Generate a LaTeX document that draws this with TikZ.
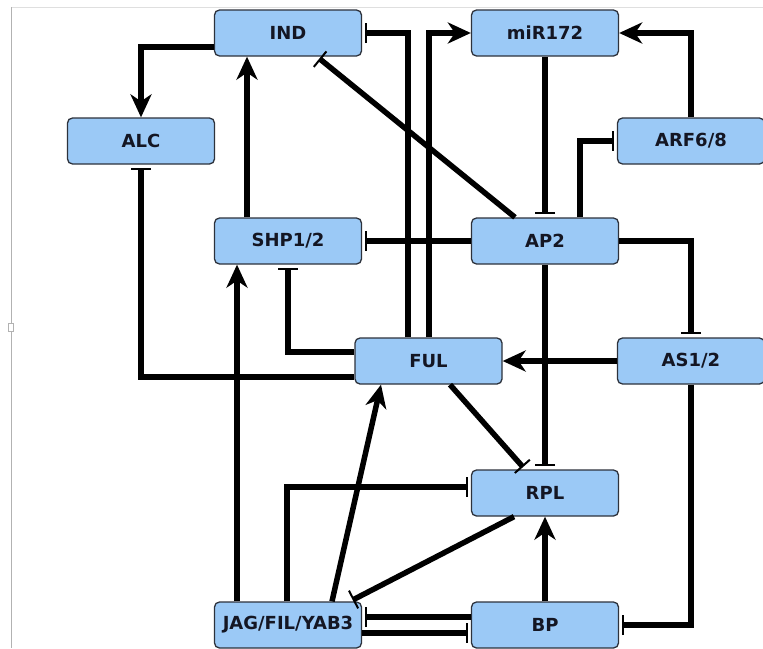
\documentclass[tikz,border=0pt]{standalone}
\usepackage{fontspec}
\setmainfont{DejaVu Sans}
\usetikzlibrary{arrows.meta}
\definecolor{boxfill}{RGB}{155,201,246}
\definecolor{boxline}{RGB}{45,50,60}
\definecolor{txt}{RGB}{20,22,35}
\definecolor{barcol}{RGB}{40,40,40}
\tikzset{
  gene/.style={draw=boxline, line width=1.3pt, fill=boxfill, rounded corners=5pt,
    minimum width=147pt, minimum height=46pt, inner sep=0pt,
    font=\fontsize{18}{21}\selectfont\bfseries, text=txt},
  act/.style={line width=5.5pt, -{Stealth[length=23pt,width=21pt,inset=7pt]}},
  inh/.style={line width=5.5pt, -{Bar[width=20pt,line width=2pt]}, shorten >=3pt},
}
\begin{document}
\begin{tikzpicture}[x=1pt,y=-1pt]
\useasboundingbox (0,0) rectangle (763,648);
\fill[white] (0,0) rectangle (763,648);
% screenshot frame
\draw[gray!25, line width=0.8pt] (11,7) -- (763,7);
\draw[gray!60, line width=0.8pt] (11,7) -- (11,648);
\draw[gray!60, line width=0.6pt, fill=white] (8,323) rectangle (13,331);

\node[gene] (IND) at (288,33) {IND};
\node[gene] (miR) at (545,33) {miR172};
\node[gene] (ALC) at (141,141) {ALC};
\node[gene] (ARF) at (691,141) {ARF6/8};
\node[gene] (SHP) at (288,241) {SHP1/2};
\node[gene] (AP2) at (545,241) {AP2};
\node[gene] (FUL) at (428.5,361) {FUL};
\node[gene] (AS) at (691,361) {AS1/2};
\node[gene] (RPL) at (545,493) {RPL};
\node[gene] (JAG) at (288,625) {JAG/FIL/YAB3};
\node[gene] (BP) at (545,625) {BP};

\draw[act] (IND.west |- 0,47) -| (ALC.north);
\draw[act] (SHP.north -| 247,0) -- (IND.south -| 247,0);
\draw[inh] (AP2.north -| 515,0) -- (IND.south -| 317,0);
\draw[inh] (FUL.north -| 408,0) |- (IND.east);
\draw[act] (FUL.north -| 429,0) |- (miR.west);
\draw[inh] (miR.south) -- (AP2.north);
\draw[act] (ARF.north) |- (miR.east);
\draw[inh] (AP2.north -| 580,0) |- (ARF.west);
\draw[inh] (FUL.west |- 0,377) -| (ALC.south);
\draw[inh] (FUL.west |- 0,352) -| (SHP.south);
\draw[inh] (AP2.west) -- (SHP.east);
\draw[inh] (AP2.east) -| (AS.north);
\draw[act] (AS.west) -- (FUL.east);
\draw[inh] (AP2.south) -- (RPL.north);
\draw[inh] (FUL.south -| 450,0) -- (RPL.north -| 525,0);
\draw[act] (JAG.north -| 237,0) -- (SHP.south -| 237,0);
\draw[inh] (JAG.north -| 287,0) |- (RPL.west |- 0,487);
\draw[act] (JAG.north -| 332,0) -- (FUL.south -| 381,0);
\draw[inh] (RPL.south -| 514,0) -- (JAG.north -| 350,0);
\draw[inh] (BP.west |- 0,617) -- (JAG.east |- 0,617);
\draw[inh] (JAG.east |- 0,633) -- (BP.west |- 0,633);
\draw[act] (BP.north) -- (RPL.south);
\draw[inh] (AS.south) |- (BP.east);
\end{tikzpicture}
\end{document}
